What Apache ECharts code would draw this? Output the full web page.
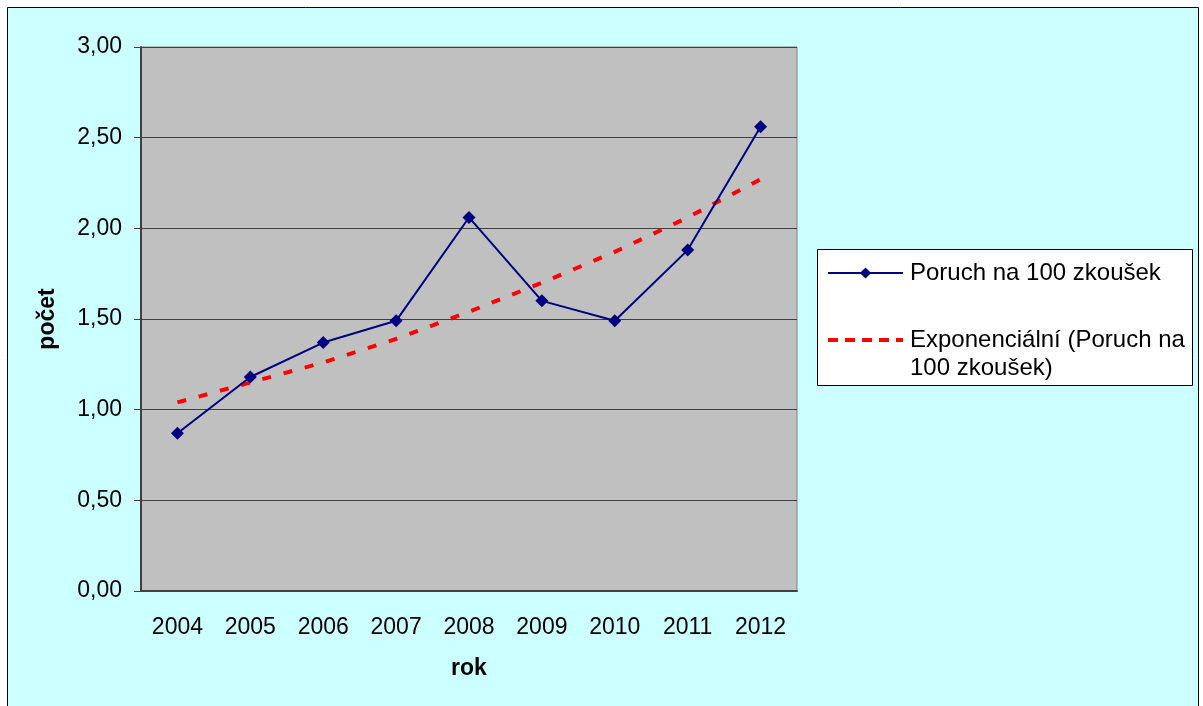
<!DOCTYPE html>
<html>
<head>
<meta charset="utf-8">
<script src="https://cdn.jsdelivr.net/npm/echarts@6/dist/echarts.min.js"></script>
<style>
	html, body { margin: 0; padding: 0; background: #fff; }
	#chart { width: 1203px; height: 706px; }
</style>
</head>
<body>
<div id="chart"></div>
<script>
	// data
	const years = ['2004', '2005', '2006', '2007', '2008', '2009', '2010', '2011', '2012']
	const poruchy = [0.87, 1.18, 1.37, 1.49, 2.06, 1.60, 1.49, 1.88, 2.56]
	const trend = [1.04, 1.15, 1.26, 1.39, 1.54, 1.70, 1.87, 2.06, 2.27]
	const yTicks = [0, 3, 0.5] // min, max, step

	const nameA = 'Poruch na 100 zkoušek'
	const nameB = 'Exponenciální (Poruch na\n100 zkoušek)'
	const font = 'Arial, "Liberation Sans", sans-serif'

	const chart = echarts.init(document.getElementById('chart'))

	const option = {
		animation: false,
		textStyle: { fontFamily: font },
		graphic: [
			{
				type: 'rect',
				z: -100,
				shape: { x: 7.5, y: 7.5, width: 1191, height: 700 },
				style: { fill: '#CCFFFF', stroke: '#000', lineWidth: 1 }
			},
			{
				type: 'rect',
				z: 1,
				shape: { x: 817.5, y: 249.5, width: 375, height: 136 },
				style: { fill: '#fff', stroke: '#000', lineWidth: 1 }
			}
		],
		grid: {
			left: 141,
			right: 406,
			top: 47,
			bottom: 115,
			show: true,
			backgroundColor: '#C0C0C0',
			borderColor: '#808080',
			borderWidth: 1
		},
		legend: {
			orient: 'vertical',
			left: 826,
			top: 259,
			itemWidth: 75,
			itemHeight: 14,
			itemGap: 11,
			padding: 0,
			textStyle: { fontFamily: font, fontSize: 24, color: '#000', lineHeight: 28, padding: [0, 0, 0, 2] },
			// blank first line so the first text line sits beside the icon
			formatter: (name) => (name === nameB ? '\n' + name : name),
			data: [
				{ name: nameA },
				{
					name: nameB,
					itemStyle: { opacity: 0 },
					lineStyle: { color: '#FF0000', width: 4, type: [10, 7] }
				}
			]
		},
		xAxis: {
			type: 'category',
			data: years,
			name: 'rok',
			nameLocation: 'middle',
			nameGap: 66,
			nameTextStyle: { fontSize: 23, fontWeight: 'bold', color: '#000' },
			axisLine: { lineStyle: { color: '#404040', width: 2 } },
			axisTick: { length: 7, lineStyle: { color: '#404040' } },
			axisLabel: { fontSize: 23, color: '#000', margin: 25 }
		},
		yAxis: {
			type: 'value',
			min: yTicks[0],
			max: yTicks[1],
			interval: yTicks[2],
			name: 'počet',
			nameLocation: 'middle',
			nameGap: 82,
			nameTextStyle: { fontSize: 23, fontWeight: 'bold', color: '#000' },
			axisLine: { show: true, lineStyle: { color: '#404040', width: 2 } },
			axisTick: { show: true, length: 7, lineStyle: { color: '#404040' } },
			splitLine: { lineStyle: { color: '#404040', width: 1 } },
			axisLabel: {
				fontSize: 23,
				color: '#000',
				margin: 19,
				formatter: (v) => v.toFixed(2).replace('.', ',')
			}
		},
		series: [
			{
				name: nameB,
				type: 'line',
				data: trend,
				symbol: 'none',
				z: 2,
				lineStyle: { color: '#FF0000', width: 4, type: [9, 13] },
				itemStyle: { color: '#FF0000' }
			},
			{
				name: nameA,
				type: 'line',
				data: poruchy,
				symbol: 'diamond',
				symbolSize: 13,
				z: 3,
				lineStyle: { color: '#000080', width: 2 },
				itemStyle: { color: '#000080' }
			}
		]
	}

	chart.setOption(option)
	window.onresize = () => {
		chart.resize()
	}
</script>
</body>
</html>
